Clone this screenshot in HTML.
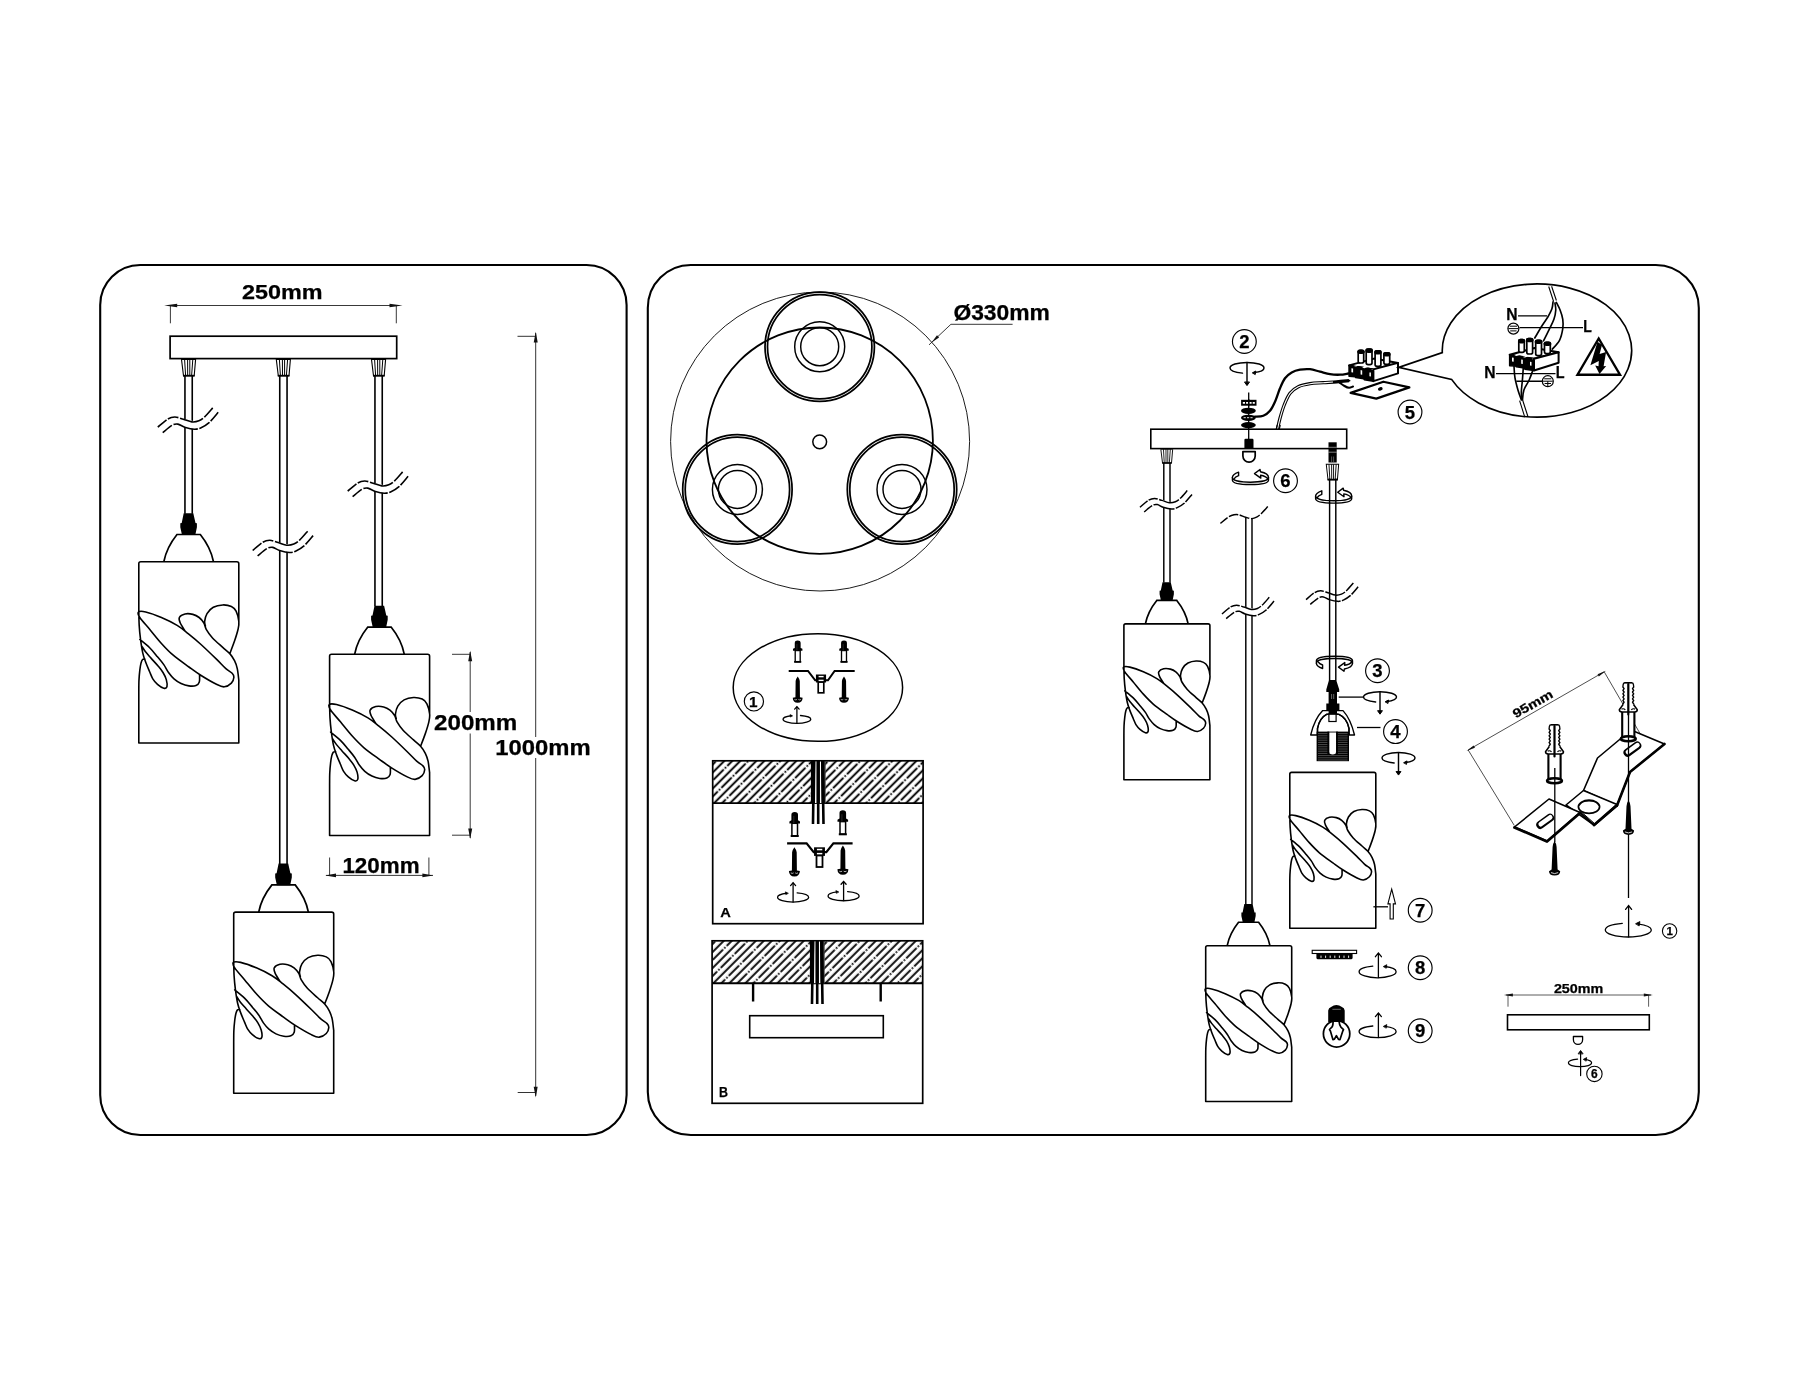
<!DOCTYPE html>
<html><head><meta charset="utf-8"><title>Diagram</title>
<style>html,body{margin:0;padding:0;background:#fff}svg{display:block;filter:grayscale(1)}text{font-family:"Liberation Sans",sans-serif;font-weight:bold;fill:#000;stroke:#000;stroke-width:.25px}</style>
</head><body>
<svg width="1800" height="1400" viewBox="0 0 1800 1400">
<rect width="1800" height="1400" fill="#fff"/>
<defs>
<g id="shade"><path vector-effect="non-scaling-stroke" d="M2 0H98Q100 0 100 2V59.68M0 2Q0 0 2 0M0 2V49.47M0.00 49.47C0.07 51.83 0.12 59.03 0.39 63.61C0.67 68.20 1.06 72.39 1.65 76.97C2.24 81.56 3.05 87.19 3.93 91.12C4.81 95.05 5.76 97.41 6.92 100.55C8.07 103.69 9.67 107.23 10.84 109.98C12.02 112.73 12.68 114.96 13.99 117.05C15.30 119.15 16.87 120.98 18.70 122.55C20.54 124.12 23.42 126.06 24.99 126.48C26.56 126.90 27.71 126.51 28.13 125.07C28.55 123.63 28.16 120.22 27.50 117.84C26.85 115.45 25.54 112.99 24.20 110.76C22.87 108.54 21.45 106.84 19.49 104.48C17.52 102.12 14.51 98.98 12.42 96.62C10.32 94.26 8.49 92.36 6.92 90.33C5.34 88.30 3.64 85.42 2.99 84.44M1.02 77.76C2.66 79.13 7.90 83.13 10.84 86.01C13.79 88.89 16.35 92.23 18.70 95.05C21.06 97.86 23.16 100.29 24.99 102.91C26.82 105.53 28.00 108.41 29.71 110.76C31.41 113.12 33.11 115.22 35.21 117.05C37.30 118.89 39.79 120.59 42.28 121.77C44.77 122.95 47.65 123.80 50.14 124.12C52.63 124.45 55.48 124.39 57.21 123.73C58.94 123.08 59.92 121.96 60.51 120.19C61.10 118.43 60.71 114.30 60.75 113.12M6.13 97.41C5.74 97.47 4.43 97.14 3.77 97.80C3.12 98.45 2.66 99.57 2.20 101.33C1.74 103.10 1.36 105.53 1.02 108.41C0.68 111.29 0.33 114.96 0.16 118.62C-0.01 122.29 0.03 128.45 0.00 130.41V181.20H100V118.62M-0.31 50.25C0.67 49.34 3.09 49.34 6.92 50.25C10.74 51.17 17.39 53.53 22.63 55.75C27.87 57.98 33.90 60.93 38.35 63.61C42.80 66.30 45.42 68.72 49.35 71.86C53.28 75.01 57.21 78.22 61.93 82.47C66.64 86.73 73.45 93.34 77.64 97.41C81.83 101.47 84.45 104.48 87.07 106.84C89.69 109.19 92.02 110.11 93.36 111.55C94.70 112.99 95.22 113.84 95.09 115.48C94.96 117.12 94.17 119.78 92.57 121.37C90.98 122.97 87.99 124.87 85.50 125.07C83.01 125.26 81.57 124.48 77.64 122.55C73.71 120.63 66.51 116.40 61.93 113.52C57.34 110.63 54.72 108.60 50.14 105.26C45.55 101.92 39.00 97.41 34.42 93.48C29.84 89.55 26.56 86.01 22.63 81.69C18.70 77.37 14.45 71.86 10.84 67.54C7.24 63.22 2.88 58.64 1.02 55.75C-0.84 52.87 -1.30 51.17 -0.31 50.25ZM46.21 69.11C45.42 67.80 42.44 63.48 41.49 61.26C40.55 59.03 39.76 57.26 40.55 55.75C41.34 54.25 43.96 52.74 46.21 52.22C48.46 51.69 51.71 52.02 54.07 52.61C56.42 53.20 58.52 54.31 60.35 55.75C62.19 57.20 63.89 59.29 65.07 61.26C66.25 63.22 65.99 65.05 67.43 67.54C68.87 70.03 70.96 73.17 73.71 76.19C76.46 79.20 81.05 83.00 83.93 85.62C86.81 88.24 89.04 89.68 91.00 91.90C92.97 94.13 94.47 96.49 95.72 98.98C96.96 101.47 97.75 103.56 98.47 106.84C99.19 110.11 99.78 116.66 100.04 118.62M91.00 91.90C91.79 89.81 94.34 83.39 95.72 79.33C97.09 75.27 98.53 70.82 99.25 67.54C99.97 64.27 100.37 62.70 100.04 59.68C99.71 56.67 98.53 51.96 97.29 49.47C96.04 46.98 94.80 45.80 92.57 44.75C90.35 43.71 86.94 43.05 83.93 43.18C80.92 43.31 77.12 44.10 74.50 45.54C71.88 46.98 69.65 49.47 68.21 51.83C66.77 54.18 66.12 57.59 65.85 59.68C65.59 61.78 66.51 63.61 66.64 64.40" fill="none" stroke="#000" stroke-width="1.6" stroke-linejoin="round" stroke-linecap="round"/></g>
<g id="lamp"><path vector-effect="non-scaling-stroke" d="M25 0Q27.8 -14.3 38.2 -27.25H61.5Q71.9 -14.3 74.7 0" fill="#fff" stroke="#000" stroke-width="1.7"/><use href="#shade"/><path d="M44.9 -48.5H54.5L56.7 -38.75L58.1 -38.5V-34.6L56.5 -26.75H43.2L41.5 -34.6V-38.5L42.9 -38.75Z" fill="#000"/></g>
<g id="brk"><path d="M-6 -1.9 L6 1.2 L6 8.2 L-6 5.3Z" fill="#fff"/><path d="M-7 -2.6L7 0.6L7 2.2L-7 -1Z" fill="#fff"/><path vector-effect="non-scaling-stroke" d="M-30.70 6.20C-29.03 4.83 -23.55 -0.30 -20.70 -2.00C-17.85 -3.70 -16.18 -4.03 -13.60 -4.00C-11.02 -3.97 -8.02 -2.62 -5.20 -1.80C-2.38 -0.98 0.70 0.63 3.30 0.90C5.90 1.17 8.25 0.65 10.40 -0.20C12.55 -1.05 13.90 -2.05 16.20 -4.20C18.50 -6.35 22.87 -11.62 24.20 -13.10" fill="none" stroke="#000" stroke-width="1.6" stroke-dasharray="11.3 1.7 11 1.7 24.5 1.7 14"/><path vector-effect="non-scaling-stroke" d="M-25.80 11.60C-24.22 10.37 -18.83 5.62 -16.30 4.20C-13.77 2.78 -12.68 2.77 -10.60 3.10C-8.52 3.43 -6.55 5.35 -3.80 6.20C-1.05 7.05 3.17 8.12 5.90 8.20C8.63 8.28 10.15 7.80 12.60 6.70C15.05 5.60 17.75 4.17 20.60 1.60C23.45 -0.97 28.18 -6.98 29.70 -8.70" fill="none" stroke="#000" stroke-width="1.6" stroke-dasharray="11.6 1.7 25.5 1.7 11.9 1.7 14"/></g>
<g id="brk2"><path d="M-5.2 -1.7L5.2 1L5.2 7.1L-5.2 4.6Z" fill="#fff"/><path d="M-6 -2.3L6 0.5L6 1.9L-6 -0.9Z" fill="#fff"/><path d="M-26.46 5.34C-25.03 4.17 -20.30 -0.26 -17.84 -1.72C-15.39 -3.19 -13.95 -3.48 -11.72 -3.45C-9.50 -3.42 -6.91 -2.26 -4.48 -1.55C-2.05 -0.85 0.60 0.55 2.84 0.78C5.09 1.01 7.11 0.56 8.96 -0.17C10.82 -0.91 11.98 -1.77 13.96 -3.62C15.95 -5.47 19.71 -10.01 20.86 -11.29" fill="none" stroke="#000" stroke-width="1.5" stroke-dasharray="9.7 1.5 9.5 1.5 21.1 1.5 14"/><path d="M-22.24 10.00C-20.87 8.94 -16.23 4.84 -14.05 3.62C-11.87 2.40 -10.93 2.38 -9.14 2.67C-7.34 2.96 -5.65 4.61 -3.28 5.34C-0.91 6.08 2.73 7.00 5.09 7.07C7.44 7.14 8.75 6.72 10.86 5.78C12.97 4.83 15.30 3.59 17.76 1.38C20.21 -0.83 24.29 -6.02 25.60 -7.50" fill="none" stroke="#000" stroke-width="1.5" stroke-dasharray="10 1.5 22 1.5 10.3 1.5 14"/></g>
<g id="cone"><path d="M-7.1 0L-5.1 16.3H5.6L7 0Z" fill="#fff" stroke="#000" stroke-width="1.1"/><path d="M-4.0 0L-3.0 16.3" stroke="#000" stroke-width="1.0"/><path d="M-1.0 0L-0.9 16.3" stroke="#000" stroke-width="1.0"/><path d="M1.2 0L1.2 16.3" stroke="#000" stroke-width="1.0"/><path d="M4.2 0L3.0 16.3" stroke="#000" stroke-width="1.0"/><path d="M-5.6 16.3H6" stroke="#000" stroke-width="1.8"/></g>
<pattern id="hatch" width="19.7" height="11.314" patternUnits="userSpaceOnUse" patternTransform="rotate(-45)"><path d="M0 8.27H19.7M0 2.61H1.64M6.64 2.61H19.7M3.3 2.61H5" stroke="#000" stroke-width="1.85" fill="none"/></pattern>
<g id="rotup" fill="none" stroke="#000" stroke-width="1.3" stroke-linecap="round"><path vector-effect="non-scaling-stroke" d="M-4.8 -5.6C-13 -4.8 -18.5 -2.6 -18.5 0C-18.5 3.3 -10 6.1 0 6.1C10 6.1 18.5 3.3 18.5 0C18.5 -2.4 13.5 -4.4 7.5 -5.2"/><path vector-effect="non-scaling-stroke" d="M0.8 5.9V-18"/><path vector-effect="non-scaling-stroke" d="M-2.2 -15L0.8 -18.6L3.8 -15" stroke-linejoin="miter"/><path d="M6 -5.3L9.2 -7L8.7 -3.8Z" fill="#000" stroke-width="0.8"/></g>
<g id="rotupL" fill="none" stroke="#000" stroke-width="1.3" stroke-linecap="round"><path vector-effect="non-scaling-stroke" d="M4.8 -5.6C13 -4.8 18.5 -2.6 18.5 0C18.5 3.3 10 6.1 0 6.1C-10 6.1 -18.5 3.3 -18.5 0C-18.5 -2.4 -13.5 -4.4 -7.5 -5.2"/><path vector-effect="non-scaling-stroke" d="M0 5.9V-18"/><path vector-effect="non-scaling-stroke" d="M-3 -15L0 -18.6L3 -15" stroke-linejoin="miter"/><path d="M-6 -5.3L-9.2 -7L-8.7 -3.8Z" fill="#000" stroke-width="0.8"/></g>
<g id="rotdn" fill="none" stroke="#000" stroke-width="1.45" stroke-linecap="round"><path vector-effect="non-scaling-stroke" d="M-4.5 5.1C-12 4.3 -17 2.4 -17 0C-17 -3.1 -9.5 -5.6 0 -5.6C9.5 -5.6 17 -3.1 17 0C17 2.2 12.5 4 7 4.6"/><path vector-effect="non-scaling-stroke" d="M0 -5.5V16"/><path vector-effect="non-scaling-stroke" d="M-2.3 14.3L0 17.6L2.3 14.3Z" fill="#000" stroke-width="1"/><path vector-effect="non-scaling-stroke" d="M5.6 4.7L8.8 3L8.3 6.2Z" fill="#000" stroke-width="1"/></g>
<g id="rib" fill="#fff" stroke="#000" stroke-width="1.4" stroke-linejoin="round" stroke-linecap="round"><path d="M-18.1 -0.8C-18.1 2.3 -10 3.9 0 3.9C10 3.9 18 2.3 18 -0.8V1.6C18 4.7 10 6.2 0 6.2C-10 6.2 -18.1 4.7 -18.1 1.6Z"/><path d="M-18.1 -0.8C-18.1 -3 -15.5 -4.8 -11.9 -6.1V-2.6C-14 -1.9 -15.6 -0.9 -16.3 0.5" fill="none"/><path d="M18 -0.8C18 -3.5 14.5 -5.6 9.9 -6.6L9.5 -8.8L4 -4.7L10.3 -0.2L10.1 -3C13.5 -2.4 16 -1.2 17.1 0.4" fill="none"/></g>
</defs>
<rect x="100.2" y="265" width="526.4" height="870" rx="40" ry="40" fill="#fff" stroke="#000" stroke-width="2.1"/>
<rect x="647.8" y="265" width="1051" height="870" rx="43" ry="43" fill="#fff" stroke="#000" stroke-width="2.1"/>
<text x="241.9" y="299.2" font-size="20.8" font-weight="bold" font-family="Liberation Sans, sans-serif" text-anchor="start" textLength="80.6" lengthAdjust="spacingAndGlyphs" >250mm</text>
<path d="M170 305.5H396.5M170.4 305.5V323.3M396.3 305.5V323.3" stroke="#222" stroke-width="0.9" fill="none"/>
<path d="M0 0L-13 -1.7L-13 1.7Z" fill="#111" transform="translate(164.2 305.5) rotate(180)"/>
<path d="M0 0L-13 -1.7L-13 1.7Z" fill="#111" transform="translate(402.5 305.5) rotate(0)"/>
<rect x="170.1" y="336.2" width="226.6" height="22.4" fill="#fff" stroke="#000" stroke-width="1.7"/>
<use href="#cone" x="188.6" y="359.4"/>
<path d="M184.95 375.5V513.75M192.25 375.5V513.75" stroke="#000" stroke-width="1.6" fill="none"/>
<use href="#cone" x="283.4" y="359.4"/>
<path d="M279.75 375.5V864.1M287.05 375.5V864.1" stroke="#000" stroke-width="1.6" fill="none"/>
<use href="#cone" x="378.6" y="359.4"/>
<path d="M374.95 375.5V606.3M382.25 375.5V606.3" stroke="#000" stroke-width="1.6" fill="none"/>
<use href="#brk" x="188.5" y="421"/>
<use href="#brk" x="283.4" y="544.3"/>
<use href="#brk" x="378.4" y="485"/>
<use href="#lamp" x="138.8" y="561.75"/>
<use href="#lamp" x="233.7" y="912.1"/>
<use href="#lamp" x="329.6" y="654.3"/>
<path d="M470.2 652V712M470.2 733.5V838M452 654.3H470.6M452 835.2H470.6" stroke="#222" stroke-width="0.9" fill="none"/>
<path d="M0 0L-10.6 -2L-10.6 2Z" fill="#111" transform="translate(470.2 650.7) rotate(-90)"/>
<path d="M0 0L-10.6 -2L-10.6 2Z" fill="#111" transform="translate(470.2 839.1) rotate(90)"/>
<text x="434.1" y="730.3" font-size="21.2" font-weight="bold" font-family="Liberation Sans, sans-serif" text-anchor="start" textLength="83.2" lengthAdjust="spacingAndGlyphs" >200mm</text>
<path d="M535.7 333V737M535.7 758V1096M517.5 336.3H536M517.7 1092.5H536" stroke="#333" stroke-width="1.0" fill="none"/>
<path d="M0 0L-10.8 -2L-10.8 2Z" fill="#111" transform="translate(535.7 331.7) rotate(-90)"/>
<path d="M0 0L-10.8 -2L-10.8 2Z" fill="#111" transform="translate(535.7 1097.6) rotate(90)"/>
<text x="495.2" y="755.3" font-size="21.2" font-weight="bold" font-family="Liberation Sans, sans-serif" text-anchor="start" textLength="95.4" lengthAdjust="spacingAndGlyphs" >1000mm</text>
<path d="M326 875.4H433M329.6 857.5V875.6M428.9 857.5V875.6" stroke="#222" stroke-width="0.9" fill="none"/>
<path d="M0 0L-10.8 -1.8L-10.8 1.8Z" fill="#111" transform="translate(325.2 875.4) rotate(180)"/>
<path d="M0 0L-10.8 -1.8L-10.8 1.8Z" fill="#111" transform="translate(433.2 875.4) rotate(0)"/>
<text x="342.4" y="873" font-size="21.2" font-weight="bold" font-family="Liberation Sans, sans-serif" text-anchor="start" textLength="77.2" lengthAdjust="spacingAndGlyphs" >120mm</text>
<circle cx="820.1" cy="441.5" r="149.5" fill="none" stroke="#111" stroke-width="0.95"/>
<circle cx="819.7" cy="440.7" r="113.2" fill="none" stroke="#000" stroke-width="1.8"/>
<circle cx="819.7" cy="441.8" r="6.9" fill="none" stroke="#000" stroke-width="1.5"/>
<circle cx="819.7" cy="346.7" r="54.7" fill="none" stroke="#000" stroke-width="1.75"/>
<circle cx="819.7" cy="346.7" r="52.2" fill="none" stroke="#000" stroke-width="1.75"/>
<circle cx="819.7" cy="346.7" r="25" fill="none" stroke="#000" stroke-width="1.45"/>
<circle cx="819.7" cy="346.7" r="19" fill="none" stroke="#000" stroke-width="1.45"/>
<circle cx="737.4" cy="489.4" r="54.7" fill="none" stroke="#000" stroke-width="1.75"/>
<circle cx="737.4" cy="489.4" r="52.2" fill="none" stroke="#000" stroke-width="1.75"/>
<circle cx="737.4" cy="489.4" r="25" fill="none" stroke="#000" stroke-width="1.45"/>
<circle cx="737.4" cy="489.4" r="19" fill="none" stroke="#000" stroke-width="1.45"/>
<circle cx="902" cy="489.4" r="54.7" fill="none" stroke="#000" stroke-width="1.75"/>
<circle cx="902" cy="489.4" r="52.2" fill="none" stroke="#000" stroke-width="1.75"/>
<circle cx="902" cy="489.4" r="25" fill="none" stroke="#000" stroke-width="1.45"/>
<circle cx="902" cy="489.4" r="19" fill="none" stroke="#000" stroke-width="1.45"/>
<text x="953.4" y="320.4" font-size="21.2" font-weight="bold" font-family="Liberation Sans, sans-serif" text-anchor="start" textLength="96.5" lengthAdjust="spacingAndGlyphs" >&#216;330mm</text>
<path d="M1012.6 324.3H950.9L929 344.9" fill="none" stroke="#222" stroke-width="0.9"/>
<path d="M0 0L-9 -1.5L-9 1.5Z" fill="#111" transform="translate(931.5 342.5) rotate(136.8)"/>
<ellipse cx="817.9" cy="687.5" rx="84.7" ry="53.8" fill="#fff" stroke="#000" stroke-width="1.5"/>
<g transform="translate(797.7 640.4) scale(0.89)"><path d="M-3.3 2.8Q-3.3 0 0 0Q3.3 0 3.3 2.8V8.4L5.3 9.5V11.6H-5.3V9.5L-3.3 8.4Z" fill="#000"/><rect x="-2.8" y="11.4" width="5.6" height="12.6" fill="#fff" stroke="#000" stroke-width="1.5"/><rect x="-4" y="23.1" width="8" height="2" fill="#000"/><path d="M-0.9 4V11.4" stroke="#555" stroke-width="0.5"/></g>
<g transform="translate(844 640.4) scale(0.89)"><path d="M-3.3 2.8Q-3.3 0 0 0Q3.3 0 3.3 2.8V8.4L5.3 9.5V11.6H-5.3V9.5L-3.3 8.4Z" fill="#000"/><rect x="-2.8" y="11.4" width="5.6" height="12.6" fill="#fff" stroke="#000" stroke-width="1.5"/><rect x="-4" y="23.1" width="8" height="2" fill="#000"/><path d="M-0.9 4V11.4" stroke="#555" stroke-width="0.5"/></g>
<path d="M788.7 670.9H808L815.2 680.3H828L834.6 670.9H854.7" fill="none" stroke="#000" stroke-width="2"/>
<g transform="translate(821 674.5) scale(0.93)"><rect x="-5.45" y="0" width="10.9" height="8.6" fill="#000"/><rect x="-2.6" y="1.5" width="5.4" height="1.5" fill="#fff"/><rect x="-2.6" y="5.6" width="5.4" height="1.7" fill="#fff"/><rect x="-3" y="8.2" width="6" height="11.5" fill="#fff" stroke="#000" stroke-width="1.8"/></g>
<g transform="translate(797.7 676.4) scale(0.9)"><path d="M0 0Q1.6 2 2.3 5L2.5 23.2L5.5 23.6Q5.3 28.9 0 29.2Q-5.3 28.9 -5.5 23.6L-2.5 23.2L-2.3 5Q-1.6 2 0 0Z" fill="#000"/><path d="M-3.6 25.6Q-2 26.6 -0.8 25.6M0.8 25.6Q2 26.6 3.6 25.6" stroke="#fff" stroke-width="0.7" fill="none"/></g>
<g transform="translate(844 676.4) scale(0.9)"><path d="M0 0Q1.6 2 2.3 5L2.5 23.2L5.5 23.6Q5.3 28.9 0 29.2Q-5.3 28.9 -5.5 23.6L-2.5 23.2L-2.3 5Q-1.6 2 0 0Z" fill="#000"/><path d="M-3.6 25.6Q-2 26.6 -0.8 25.6M0.8 25.6Q2 26.6 3.6 25.6" stroke="#fff" stroke-width="0.7" fill="none"/></g>
<g transform="translate(796.9 719.3) scale(0.75 0.68)"><use href="#rotupL"/></g>
<circle cx="753.9" cy="701.4" r="9.6" fill="none" stroke="#000" stroke-width="1.15"/>
<text x="753.3" y="706.9" font-size="15.3" font-weight="bold" font-family="Liberation Sans, sans-serif" text-anchor="middle" >1</text>
<g transform="translate(712.7 760.8)"><rect x="0" y="0" width="210.4" height="42.3" fill="url(#hatch)"/></g>
<rect x="712.7" y="760.8" width="210.4" height="162.9" fill="none" stroke="#000" stroke-width="1.7"/>
<path d="M712.7 803.1H923.1" stroke="#000" stroke-width="1.9"/>
<rect x="811" y="761.6" width="14.4" height="41.5" fill="#fff"/>
<path d="M813.9 760.8L813 824M818.2 760.8V824M822.5 760.8L823.5 824" stroke="#000" stroke-width="2.6" fill="none"/>
<path d="M813.7 760.8L813.3 803.1M818.2 760.8V803.1M822.7 760.8L823.1 803.1" stroke="#000" stroke-width="3.4" fill="none"/>
<path d="M811.5 760.8V803.1M824.9 760.8V803.1" stroke="#000" stroke-width="1.2" fill="none"/>
<g transform="translate(794.7 811.9) scale(1)"><path d="M-3.3 2.8Q-3.3 0 0 0Q3.3 0 3.3 2.8V8.4L5.3 9.5V11.6H-5.3V9.5L-3.3 8.4Z" fill="#000"/><rect x="-2.8" y="11.4" width="5.6" height="12.6" fill="#fff" stroke="#000" stroke-width="1.5"/><rect x="-4" y="23.1" width="8" height="2" fill="#000"/><path d="M-0.9 4V11.4" stroke="#555" stroke-width="0.5"/></g>
<g transform="translate(842.8 810.2) scale(1)"><path d="M-3.3 2.8Q-3.3 0 0 0Q3.3 0 3.3 2.8V8.4L5.3 9.5V11.6H-5.3V9.5L-3.3 8.4Z" fill="#000"/><rect x="-2.8" y="11.4" width="5.6" height="12.6" fill="#fff" stroke="#000" stroke-width="1.5"/><rect x="-4" y="23.1" width="8" height="2" fill="#000"/><path d="M-0.9 4V11.4" stroke="#555" stroke-width="0.5"/></g>
<path d="M787.1 843.3H806.6L813.7 852.2H826.3L833.4 843.3H852.6" fill="none" stroke="#000" stroke-width="2.2"/>
<g transform="translate(819.5 847.3) scale(1)"><rect x="-5.45" y="0" width="10.9" height="8.6" fill="#000"/><rect x="-2.6" y="1.5" width="5.4" height="1.5" fill="#fff"/><rect x="-2.6" y="5.6" width="5.4" height="1.7" fill="#fff"/><rect x="-3" y="8.2" width="6" height="11.5" fill="#fff" stroke="#000" stroke-width="1.8"/></g>
<g transform="translate(794.4 847.3) scale(1)"><path d="M0 0Q1.6 2 2.3 5L2.5 23.2L5.5 23.6Q5.3 28.9 0 29.2Q-5.3 28.9 -5.5 23.6L-2.5 23.2L-2.3 5Q-1.6 2 0 0Z" fill="#000"/><path d="M-3.6 25.6Q-2 26.6 -0.8 25.6M0.8 25.6Q2 26.6 3.6 25.6" stroke="#fff" stroke-width="0.7" fill="none"/></g>
<g transform="translate(842.9 845.6) scale(1)"><path d="M0 0Q1.6 2 2.3 5L2.5 23.2L5.5 23.6Q5.3 28.9 0 29.2Q-5.3 28.9 -5.5 23.6L-2.5 23.2L-2.3 5Q-1.6 2 0 0Z" fill="#000"/><path d="M-3.6 25.6Q-2 26.6 -0.8 25.6M0.8 25.6Q2 26.6 3.6 25.6" stroke="#fff" stroke-width="0.7" fill="none"/></g>
<g transform="translate(793.1 897.3) scale(0.84 0.78)"><use href="#rotupL"/></g>
<g transform="translate(843.6 896) scale(0.84 0.78)"><use href="#rotupL"/></g>
<text x="720.2" y="916.7" font-size="13.6" font-weight="bold" font-family="Liberation Sans, sans-serif" text-anchor="start" textLength="10.6" lengthAdjust="spacingAndGlyphs" >A</text>
<g transform="translate(712.1 940.8)"><rect x="0" y="0" width="210.6" height="42.4" fill="url(#hatch)"/></g>
<rect x="712.1" y="940.8" width="210.6" height="162.5" fill="none" stroke="#000" stroke-width="1.7"/>
<path d="M712.1 983.2H922.7" stroke="#000" stroke-width="1.9"/>
<rect x="810" y="941.6" width="14.4" height="41.6" fill="#fff"/>
<path d="M812.9 940.8L812 1004M817.2 940.8V1004M821.5 940.8L822.5 1004" stroke="#000" stroke-width="2.6" fill="none"/>
<path d="M812.7 940.8L812.3 983.2M817.2 940.8V983.2M821.7 940.8L822.1 983.2" stroke="#000" stroke-width="3.4" fill="none"/>
<path d="M810.5 940.8V983.2M823.9 940.8V983.2" stroke="#000" stroke-width="1.2" fill="none"/>
<path d="M753.1 983V1001.5M880.7 983V1001.5" stroke="#000" stroke-width="2.4" fill="none"/>
<rect x="749.7" y="1015.7" width="133.6" height="22" fill="#fff" stroke="#000" stroke-width="1.6"/>
<text x="718.9" y="1096.8" font-size="13.8" font-weight="bold" font-family="Liberation Sans, sans-serif" text-anchor="start" textLength="9" lengthAdjust="spacingAndGlyphs" >B</text>
<path d="M1255.00 416.70C1256.38 416.55 1260.80 416.78 1263.30 415.80C1265.80 414.82 1268.05 413.15 1270.00 410.80C1271.95 408.45 1273.33 405.45 1275.00 401.70C1276.67 397.95 1278.33 392.20 1280.00 388.30C1281.67 384.40 1283.05 380.93 1285.00 378.30C1286.95 375.67 1289.20 373.93 1291.70 372.50C1294.20 371.07 1296.95 370.25 1300.00 369.70C1303.05 369.15 1306.67 368.87 1310.00 369.20C1313.33 369.53 1316.67 370.87 1320.00 371.70C1323.33 372.53 1326.67 373.70 1330.00 374.20C1333.33 374.70 1336.95 374.82 1340.00 374.70C1343.05 374.58 1346.92 373.70 1348.30 373.50" fill="none" stroke="#000" stroke-width="2.3" stroke-linecap="round"/>
<path d="M1277.30 430.00C1277.75 428.05 1278.85 422.47 1280.00 418.30C1281.15 414.13 1282.53 409.17 1284.20 405.00C1285.87 400.83 1287.65 396.35 1290.00 393.30C1292.35 390.25 1294.97 388.30 1298.30 386.70C1301.63 385.10 1305.83 384.37 1310.00 383.70C1314.17 383.03 1318.85 383.02 1323.30 382.70C1327.75 382.38 1332.42 382.15 1336.70 381.80C1340.98 381.45 1346.95 380.80 1349.00 380.60" fill="none" stroke="#000" stroke-width="3.3"/>
<path d="M1277.30 430.00C1277.75 428.05 1278.85 422.47 1280.00 418.30C1281.15 414.13 1282.53 409.17 1284.20 405.00C1285.87 400.83 1287.65 396.35 1290.00 393.30C1292.35 390.25 1294.97 388.30 1298.30 386.70C1301.63 385.10 1305.83 384.37 1310.00 383.70C1314.17 383.03 1319.47 382.98 1323.30 382.70C1327.13 382.42 1331.38 382.12 1333.00 382.00" fill="none" stroke="#fff" stroke-width="1.1"/>
<path d="M1336 381.9L1349.5 380.6" stroke="#000" stroke-width="1.9" stroke-linecap="round"/>
<path d="M1339.50 382.60C1340.33 383.17 1342.92 385.13 1344.50 386.00C1346.08 386.87 1347.58 387.70 1349.00 387.80C1350.42 387.90 1352.33 386.80 1353.00 386.60" fill="none" stroke="#000" stroke-width="2.1" stroke-linecap="round"/>
<rect x="1150.8" y="429.2" width="195.9" height="19.4" fill="#fff" stroke="#000" stroke-width="1.6"/>
<path d="M1276.2 429.2L1277.2 425M1279.3 429.2L1280.3 425" stroke="#000" stroke-width="1.1"/>
<path d="M1248.7 392.6V439" stroke="#000" stroke-width="1.3"/>
<rect x="1241.1" y="399.8" width="15.4" height="5.9" fill="#000"/>
<path d="M1242.8 402.8H1254.8" stroke="#fff" stroke-width="1.7" stroke-dasharray="2.2 1.1"/>
<path d="M1248.7 399V406.5" stroke="#000" stroke-width="1.3"/>
<ellipse cx="1248.4" cy="410.8" rx="7.4" ry="3.1" fill="#000"/>
<ellipse cx="1248.4" cy="417.8" rx="7.4" ry="3.1" fill="#000"/>
<ellipse cx="1248.4" cy="425.1" rx="7.4" ry="3.1" fill="#000"/>
<path d="M1243.6 417.7H1253.2" stroke="#fff" stroke-width="0.9" stroke-dasharray="2.2 1.2"/>
<rect x="1244.4" y="438.7" width="9.1" height="10.4" rx="1.2" fill="#000"/>
<path d="M1242.9 451.6H1255.2V456A6.15 6.15 0 0 1 1242.9 456Z" fill="#fff" stroke="#000" stroke-width="1.7" stroke-linejoin="round"/>
<circle cx="1244.35" cy="341.5" r="11.9" fill="#fff" stroke="#000" stroke-width="1.15"/>
<text x="1244.35" y="348.12" font-size="18.5" font-weight="bold" font-family="Liberation Sans, sans-serif" text-anchor="middle" >2</text>
<g transform="translate(1247 368) scale(1 1)" ><use href="#rotdn"/></g>
<g transform="translate(1250.5 478.3) scale(1 1)" ><use href="#rib"/></g>
<circle cx="1285.5" cy="480.8" r="11.9" fill="#fff" stroke="#000" stroke-width="1.15"/>
<text x="1285.5" y="487.42" font-size="18.5" font-weight="bold" font-family="Liberation Sans, sans-serif" text-anchor="middle" >6</text>
<circle cx="1410" cy="412" r="11.9" fill="#fff" stroke="#000" stroke-width="1.15"/>
<text x="1410" y="418.62" font-size="18.5" font-weight="bold" font-family="Liberation Sans, sans-serif" text-anchor="middle" >5</text>
<g id="tb"><polygon points="1349.1,365.4 1373.4,369.4 1398.0,362.9 1374.0,358.6" fill="#fff" stroke="#000" stroke-width="2" stroke-linejoin="round"/><rect x="1383.9" y="352.9" width="5.8" height="11.4" rx="2" ry="1.6" fill="#fff" stroke="#000" stroke-width="1.7"/><rect x="1383.1" y="352.0" width="7.5" height="4.6" rx="2.4" ry="1.8" fill="#000"/><rect x="1375.1" y="350.9" width="5.8" height="15.4" rx="2" ry="1.6" fill="#fff" stroke="#000" stroke-width="1.7"/><rect x="1374.2" y="350.0" width="7.5" height="4.6" rx="2.4" ry="1.8" fill="#000"/><rect x="1358.2" y="350.3" width="5.5" height="12.7" rx="2" ry="1.6" fill="#fff" stroke="#000" stroke-width="1.7"/><rect x="1357.4" y="349.4" width="7.2" height="4.6" rx="2.4" ry="1.8" fill="#000"/><rect x="1366.2" y="349.1" width="5.8" height="15.5" rx="2" ry="1.6" fill="#fff" stroke="#000" stroke-width="1.7"/><rect x="1365.4" y="348.3" width="7.5" height="4.6" rx="2.4" ry="1.8" fill="#000"/><polygon points="1349.1,365.4 1373.4,369.4 1373.4,381.1 1364.3,379.7 1363.7,378.6 1355.7,377.4 1355.1,376.6 1349.1,376.3" fill="#000" stroke="#000" stroke-width="1.6" stroke-linejoin="round"/><polygon points="1351.4,368.2 1353.1,368.4 1353.1,372.4 1351.4,372.2" fill="#fff"/><polygon points="1360.6,370.1 1362.2,370.4 1362.2,374.7 1360.6,374.4" fill="#fff"/><polygon points="1369.4,372.4 1370.9,372.6 1370.9,376.4 1369.4,376.2" fill="#fff"/><polygon points="1353.7,365.9 1358.0,364.5 1360.3,365.0 1356.0,366.5" fill="#fff"/><polygon points="1362.0,367.6 1366.6,366.1 1368.9,366.7 1364.3,368.2" fill="#fff"/><polygon points="1371.1,369.5 1375.7,368.1 1377.7,368.5 1373.4,370.0" fill="#fff"/><polygon points="1373.4,369.4 1398.0,362.9 1398.0,373.4 1373.4,381.1" fill="#fff" stroke="#000" stroke-width="2" stroke-linejoin="round"/></g>
<polygon points="1350.6,392.9 1383.4,381.7 1409.4,387.4 1376.3,398.6" fill="#fff" stroke="#000" stroke-width="2.2" stroke-linejoin="round"/>
<ellipse cx="1380.3" cy="388.9" rx="2.4" ry="1.7" fill="#000" transform="rotate(-15 1380.3 388.9)"/>
<path d="M1442.3 352.6A94.7 66.6 0 1 1 1451.6 379.4L1398.7 367.4Z" fill="#fff" stroke="#000" stroke-width="1.65" stroke-linejoin="miter"/>
<path d="M1548.7 286.5L1553.6 301.5M1551.6 286.2L1556.4 300.5" stroke="#000" stroke-width="1.1" fill="none"/>
<path d="M1553.09 301.25C1552.90 302.52 1552.80 306.21 1551.92 308.84C1551.05 311.46 1549.49 314.18 1547.84 317.00C1546.19 319.82 1544.24 322.16 1542.01 325.75C1539.77 329.35 1535.69 336.45 1534.42 338.59" fill="none" stroke="#000" stroke-width="1.65"/>
<path d="M1554.84 302.42C1555.00 303.68 1555.93 307.18 1555.77 310.00C1555.62 312.82 1555.03 316.03 1553.91 319.34C1552.78 322.64 1550.79 326.14 1549.01 329.84C1547.22 333.53 1544.14 339.56 1543.17 341.50" fill="none" stroke="#000" stroke-width="1.65"/>
<path d="M1556.01 301.83C1556.69 303.20 1558.96 307.08 1560.09 310.00C1561.22 312.92 1562.33 316.22 1562.77 319.34C1563.22 322.45 1563.32 325.17 1562.77 328.67C1562.23 332.17 1561.31 336.84 1559.51 340.34C1557.70 343.84 1553.19 348.11 1551.92 349.67" fill="none" stroke="#000" stroke-width="1.65"/>
<path d="M1514.00 366.00C1514.16 367.95 1514.26 373.59 1514.94 377.67C1515.62 381.76 1516.98 386.71 1518.09 390.51C1519.20 394.30 1521.00 398.77 1521.59 400.42" fill="none" stroke="#000" stroke-width="1.65"/>
<path d="M1523.34 367.17C1523.18 369.31 1522.74 375.92 1522.40 380.01C1522.07 384.09 1521.45 388.27 1521.35 391.67C1521.26 395.08 1521.74 398.96 1521.82 400.42" fill="none" stroke="#000" stroke-width="1.65"/>
<path d="M1532.67 370.67C1532.09 372.23 1530.63 376.80 1529.17 380.01C1527.71 383.21 1525.05 386.52 1523.92 389.92C1522.79 393.33 1522.66 398.67 1522.40 400.42" fill="none" stroke="#000" stroke-width="1.65"/>
<path d="M1519.6 400.6L1524.7 416.9M1522.6 400L1527.9 416.5" stroke="#000" stroke-width="1.1" fill="none"/>
<use href="#tb" transform="translate(160.6 -10.6) "/>
<path d="M1518 315.8H1547M1519.5 327.6H1583M1496 373.6H1555.5M1516.3 381.2H1542.5" stroke="#000" stroke-width="1.35" fill="none"/>
<text x="1506.2" y="319.9" font-size="15.6" font-weight="bold" font-family="Liberation Sans, sans-serif" text-anchor="start" textLength="11.3" lengthAdjust="spacingAndGlyphs" >N</text>
<text x="1583.2" y="331.6" font-size="15.6" font-weight="bold" font-family="Liberation Sans, sans-serif" text-anchor="start" textLength="8.6" lengthAdjust="spacingAndGlyphs" >L</text>
<text x="1484.2" y="378.3" font-size="15.6" font-weight="bold" font-family="Liberation Sans, sans-serif" text-anchor="start" textLength="11.3" lengthAdjust="spacingAndGlyphs" >N</text>
<text x="1555.8" y="377.8" font-size="15.6" font-weight="bold" font-family="Liberation Sans, sans-serif" text-anchor="start" textLength="8.8" lengthAdjust="spacingAndGlyphs" >L</text>
<circle cx="1513.4" cy="328.6" r="5.5" fill="#fff" stroke="#000" stroke-width="1.2"/>
<path d="M1508.4 328.6H1518.4M1509.8 326.2H1517M1510.2 330.9H1516.6" stroke="#000" stroke-width="1" fill="none"/>
<circle cx="1547.8" cy="381.2" r="5.5" fill="#fff" stroke="#000" stroke-width="1.2"/>
<path d="M1542.8 381.2H1552.8M1544.2 378.8H1551.4M1544.6 383.5H1551" stroke="#000" stroke-width="1" fill="none"/>
<path d="M1547.8 381.2V386.4" stroke="#000" stroke-width="1"/>
<path d="M1598.7 338.5L1577.5 374.7H1620L1598.7 338.5Z" fill="#fff" stroke="#000" stroke-width="2.4" stroke-linejoin="miter"/>
<polygon points="1597.5,341.8 1602,345 1599.6,354 1606.1,352 1603.6,366.2 1606.2,366 1599.5,373.9 1595.2,365.6 1598.5,366.2 1598.8,361 1590.4,365.3" fill="#000"/>
<use href="#cone" transform="translate(1166.8 449.3) scale(0.84)"/>
<path d="M1163.8 463V582.52M1170 463V582.52" stroke="#000" stroke-width="1.45" fill="none"/>
<g transform="translate(1166.4 501.9) scale(1 1)" ><use href="#brk2"/></g>
<g transform="translate(1123.9 623.9) scale(0.86 0.86)" ><use href="#lamp"/></g>
<path d="M1245.8 517.6V904.32M1252 517.6V904.32" stroke="#000" stroke-width="1.45" fill="none"/>
<path d="M1243 513L1256 517V519.6L1243 516.5Z" fill="#fff"/>
<path d="M1220.40 523.40C1221.63 522.40 1225.53 518.83 1227.80 517.40C1230.07 515.97 1232.15 515.23 1234.00 514.80C1235.85 514.37 1236.97 514.40 1238.90 514.80C1240.83 515.20 1243.45 516.57 1245.60 517.20C1247.75 517.83 1249.88 518.67 1251.80 518.60C1253.72 518.53 1255.55 517.62 1257.10 516.80C1258.65 515.98 1259.32 515.40 1261.10 513.70C1262.88 512.00 1266.68 507.78 1267.80 506.60" fill="none" stroke="#000" stroke-width="1.45" stroke-dasharray="9.2 1.6 9.8 1.5 10 1.7 9.8 1.6 12"/>
<g transform="translate(1248.4 608.6) scale(1 1)" ><use href="#brk2"/></g>
<g transform="translate(1205.7 945.7) scale(0.86 0.86)" ><use href="#lamp"/></g>
<rect x="1328.5" y="442.3" width="8.2" height="20.2" fill="#000"/>
<rect x="1330.3" y="448.2" width="4.6" height="9" fill="#000"/>
<path d="M1328.5 447.3H1336.7M1328.5 452.2H1336.7" stroke="#fff" stroke-width="0.5"/>
<path d="M1331.6 456.5V462M1333.6 456.5V462" stroke="#888" stroke-width="0.6"/>
<use href="#cone" transform="translate(1332.5 464.3) scale(0.88 0.94)"/>
<g transform="translate(1333.7 496.9) scale(1 1)" ><use href="#rib"/></g>
<g transform="translate(1332.5 594.3) scale(1 1)" ><use href="#brk2"/></g>
<g transform="translate(1334.5 662.4) scale(1 -1)" ><use href="#rib"/></g>
<path d="M1329.6 478.6V680.6M1335.8 478.6V680.6" stroke="#000" stroke-width="1.45" fill="none"/>
<circle cx="1377.5" cy="670.7" r="11.9" fill="#fff" stroke="#000" stroke-width="1.15"/>
<text x="1377.5" y="677.32" font-size="18.5" font-weight="bold" font-family="Liberation Sans, sans-serif" text-anchor="middle" >3</text>
<path d="M1329 680H1336.2L1339.2 689.5V692H1337V703.5H1339.4V710L1338 714.5H1327.6L1326.3 710V703.5H1328.6V692H1326.3V689.5Z" fill="#000"/>
<path d="M1331.6 694V699M1333.7 694V699" stroke="#aaa" stroke-width="0.6"/>
<path d="M1338.7 697.1H1363.5" stroke="#000" stroke-width="1.3"/>
<g transform="translate(1380 697.1) scale(0.97 0.97)" ><use href="#rotdn"/></g>
<path d="M1310.7 735Q1314.5 719 1322.7 710.6H1343Q1350.7 719 1354.5 735H1349V728.5Q1347 718 1338.5 714.2H1327Q1319.5 718 1317.5 728.5V735Z" fill="#fff" stroke="#000" stroke-width="1.4" stroke-linejoin="round"/>
<path d="M1327.3 714.2H1338M1317.5 735V728.5Q1319.5 718 1327 714.2M1349 735V728.5Q1347 718 1338.5 714.2" fill="none" stroke="#000" stroke-width="1.4"/>
<rect x="1328.6" y="709" width="8.4" height="5.4" fill="#000"/>
<rect x="1328.9" y="714.2" width="7.2" height="7.3" fill="#fff" stroke="#000" stroke-width="1.2"/>
<rect x="1316.6" y="731.6" width="32.4" height="29.6" fill="#000"/>
<path d="M1318 733.6H1347.6M1318 735.8H1347.6M1318 738H1347.6M1318 740.2H1347.6M1318 742.4H1347.6M1318 744.6H1347.6M1318 746.8H1347.6M1318 749H1347.6M1318 751.2H1347.6M1318 753.4H1347.6M1318 755.6H1347.6M1318 757.8H1347.6M1318 760H1347.6" stroke="#fff" stroke-width="0.3" fill="none"/>
<path d="M1329.2 732.6H1336.1V751.4A3.45 3 0 0 1 1329.2 751.4Z" fill="#fff"/>
<rect x="1327.4" y="731.6" width="1.8" height="23" fill="#000"/><rect x="1336.1" y="731.6" width="1.8" height="23" fill="#000"/>
<path d="M1357 727.5H1380.5" stroke="#000" stroke-width="1.3"/>
<circle cx="1395.5" cy="731.6" r="11.9" fill="#fff" stroke="#000" stroke-width="1.15"/>
<text x="1395.5" y="738.22" font-size="18.5" font-weight="bold" font-family="Liberation Sans, sans-serif" text-anchor="middle" >4</text>
<g transform="translate(1398.5 758) scale(0.97 0.97)" ><use href="#rotdn"/></g>
<g transform="translate(1289.8 772.4) scale(0.86 0.86)" ><use href="#shade"/></g>
<path d="M1373.4 906.8H1388" stroke="#000" stroke-width="1.3"/>
<path d="M1391.7 889.2L1395.5 903.9H1393.3V919H1390.1V903.9H1387.9Z" fill="#fff" stroke="#000" stroke-width="1.1" stroke-linejoin="miter"/>
<circle cx="1420.2" cy="910.3" r="11.9" fill="#fff" stroke="#000" stroke-width="1.15"/>
<text x="1420.2" y="916.92" font-size="18.5" font-weight="bold" font-family="Liberation Sans, sans-serif" text-anchor="middle" >7</text>
<rect x="1312.2" y="950.3" width="44.4" height="3.2" fill="#fff" stroke="#000" stroke-width="1.1"/>
<path d="M1316.4 954H1352.6V957.8Q1352.6 959.3 1351 959.3H1318Q1316.4 959.3 1316.4 957.8Z" fill="#000"/>
<path d="M1321 955.6V957.9M1325.6 955.6V957.9M1330.2 955.6V957.9M1334.8 955.6V957.9M1339.4 955.6V957.9M1344 955.6V957.9M1348.6 955.6V957.9" stroke="#fff" stroke-width="0.9"/>
<g transform="translate(1377.6 971.7) scale(1 1)" ><use href="#rotup"/></g>
<circle cx="1420.2" cy="967.8" r="11.9" fill="#fff" stroke="#000" stroke-width="1.15"/>
<text x="1420.2" y="974.42" font-size="18.5" font-weight="bold" font-family="Liberation Sans, sans-serif" text-anchor="middle" >8</text>
<circle cx="1336.6" cy="1033.8" r="13.2" fill="#fff" stroke="#000" stroke-width="1.75"/>
<path d="M1328.2 1010.6Q1328.4 1008 1331.5 1006.8Q1333.5 1005 1336.4 1005Q1339.5 1005 1341.5 1006.8Q1344.6 1008 1344.7 1010.6V1021.9H1328.2Z" fill="#000"/>
<path d="M1332.4 1009.3H1340.8" stroke="#999" stroke-width="0.7"/>
<path d="M1333.1 1021.8Q1333.1 1025 1332.3 1026.7L1329.5 1029.5L1330.4 1031L1332.9 1039.6L1334.4 1039.1L1336.4 1035.7L1338.5 1039.4L1340 1039.6L1342.8 1031L1343.5 1029.6L1340.9 1027.1Q1339.3 1024.6 1339.1 1021.8" fill="none" stroke="#000" stroke-width="1.7" stroke-linejoin="round"/>
<g transform="translate(1377.6 1031.6) scale(1 1)" ><use href="#rotup"/></g>
<circle cx="1420.2" cy="1030.8" r="11.9" fill="#fff" stroke="#000" stroke-width="1.15"/>
<text x="1420.2" y="1037.42" font-size="18.5" font-weight="bold" font-family="Liberation Sans, sans-serif" text-anchor="middle" >9</text>
<path d="M1468.2 750L1604.2 671.8M1468.2 750L1514.3 825.5M1604.2 671.8L1647.3 746" stroke="#222" stroke-width="0.8" fill="none"/>
<path d="M0 0L-9 -1.3L-9 1.3Z" fill="#111" transform="translate(1466.5 751) rotate(150.1)"/>
<path d="M0 0L-9 -1.3L-9 1.3Z" fill="#111" transform="translate(1606 670.8) rotate(-29.9)"/>
<text x="0" y="0" font-size="12.6" text-anchor="middle" textLength="44" lengthAdjust="spacingAndGlyphs" transform="translate(1534.8 707.6) rotate(-29.9)">95mm</text>
<polygon points="1583.5,790.5 1597.5,758.0 1631.0,730.0 1664.5,744.0 1630.0,772.0 1617.0,805.5" fill="#fff" stroke="#000" stroke-width="1.6" stroke-linejoin="round" />
<polyline points="1664.5,744.0 1630.0,772.0 1617.0,805.5" fill="none" stroke="#000" stroke-width="2.6" stroke-linecap="round" stroke-linejoin="round"/>
<polyline points="1617.0,805.5 1594.0,825.0" fill="none" stroke="#000" stroke-width="2.4" stroke-linecap="round" stroke-linejoin="round"/>
<polygon points="1566.0,805.0 1583.5,790.5 1617.0,804.5 1594.0,825.0" fill="#fff" stroke="#000" stroke-width="1.6" stroke-linejoin="round" />
<polyline points="1617.0,805.0 1594.0,825.0" fill="none" stroke="#000" stroke-width="2.6" stroke-linecap="round" stroke-linejoin="round"/>
<polyline points="1580.0,812.5 1594.0,825.0" fill="none" stroke="#000" stroke-width="2.2" stroke-linecap="round" stroke-linejoin="round"/>
<polyline points="1581.2,811.8 1594.5,823.5" fill="none" stroke="#000" stroke-width="1" stroke-linecap="round" stroke-linejoin="round"/>
<path d="M1627.6 752.6L1637.2 745.6" stroke="#000" stroke-width="8.2" stroke-linecap="round"/><path d="M1627.9 752L1637.4 745.1" stroke="#fff" stroke-width="4.6" stroke-linecap="round"/>
<path d="M1626.3 750.6L1636 744.5" stroke="#000" stroke-width="1" stroke-linecap="round" opacity="0"/>
<ellipse cx="1589" cy="806.8" rx="10.6" ry="6.6" fill="#fff" stroke="#000" stroke-width="1.7"/>
<path d="M1579.3 805.5A10 6 0 0 1 1598.8 805.5" fill="none" stroke="#000" stroke-width="1.1"/>
<polygon points="1514.5,827.0 1549.0,799.0 1580.0,812.5 1547.0,841.0" fill="#fff" stroke="#000" stroke-width="1.6" stroke-linejoin="round" />
<polyline points="1514.5,827.5 1547.0,841.5 1580.0,813.0" fill="none" stroke="#000" stroke-width="2.8" stroke-linecap="round" stroke-linejoin="round"/>
<path d="M1540.4 824.8L1550 817.8" stroke="#000" stroke-width="8.2" stroke-linecap="round"/><path d="M1540.7 824.2L1550.2 817.3" stroke="#fff" stroke-width="4.6" stroke-linecap="round"/>
<g transform="translate(1628.3 682.5)"><path d="M-6.1 27.5V56.5H6.1V27.5" fill="#fff" stroke="#000" stroke-width="2.1"/><ellipse cx="0" cy="56.3" rx="7.4" ry="2.5" fill="#fff" stroke="#000" stroke-width="2.6"/><path d="M-5.2 22L-9 27.2Q-9 29.4 -6.2 29.4H6.2Q9 29.4 9 27.2L5.2 22" fill="#fff" stroke="#000" stroke-width="1.5" stroke-linejoin="round"/><path d="M-6.8 26.6Q-4.5 25.6 -3 27.4M6.8 26.6Q4.5 25.6 3 27.4" fill="none" stroke="#000" stroke-width="1.2"/><path d="M-4.2 0.2Q-5.6 1.6 -5.4 4.5L-4.2 6.1L-5.4 7.9L-4.2 9.5L-5.4 11.3L-4.2 12.9L-5.4 14.7L-4.2 16.3L-5.4 18.1L-4.2 19.7L-5.4 21.5L-5.2 22" fill="none" stroke="#000" stroke-width="1.4" stroke-linejoin="round"/><path d="M-4.2 0.2Q-5.6 1.6 -5.4 4.5L-4.2 6.1L-5.4 7.9L-4.2 9.5L-5.4 11.3L-4.2 12.9L-5.4 14.7L-4.2 16.3L-5.4 18.1L-4.2 19.7L-5.4 21.5L-5.2 22" fill="none" stroke="#000" stroke-width="1.4" stroke-linejoin="round" transform="scale(-1 1)"/><path d="M-4.2 0.3H4.2" stroke="#000" stroke-width="1.6"/><path d="M0 1.5V32" stroke="#000" stroke-width="2.2" stroke-linecap="round"/></g>
<path d="M1628.5 715V898" stroke="#000" stroke-width="1.3"/>
<g transform="translate(1628.5 800.3)"><path d="M0 0Q1.5 2 2 6L3 28.5L5.6 30.2Q5.6 34.4 0 34.6Q-5.6 34.4 -5.6 30.2L-3 28.5L-2 6Q-1.5 2 0 0Z" fill="#000"/><path d="M-3.6 31.6Q0 33.6 3.6 31.6" stroke="#fff" stroke-width="0.8" fill="none"/></g>
<g transform="translate(1554.5 724.5)"><path d="M-6.1 27.5V56.5H6.1V27.5" fill="#fff" stroke="#000" stroke-width="2.1"/><ellipse cx="0" cy="56.3" rx="7.4" ry="2.5" fill="#fff" stroke="#000" stroke-width="2.6"/><path d="M-5.2 22L-9 27.2Q-9 29.4 -6.2 29.4H6.2Q9 29.4 9 27.2L5.2 22" fill="#fff" stroke="#000" stroke-width="1.5" stroke-linejoin="round"/><path d="M-6.8 26.6Q-4.5 25.6 -3 27.4M6.8 26.6Q4.5 25.6 3 27.4" fill="none" stroke="#000" stroke-width="1.2"/><path d="M-4.2 0.2Q-5.6 1.6 -5.4 4.5L-4.2 6.1L-5.4 7.9L-4.2 9.5L-5.4 11.3L-4.2 12.9L-5.4 14.7L-4.2 16.3L-5.4 18.1L-4.2 19.7L-5.4 21.5L-5.2 22" fill="none" stroke="#000" stroke-width="1.4" stroke-linejoin="round"/><path d="M-4.2 0.2Q-5.6 1.6 -5.4 4.5L-4.2 6.1L-5.4 7.9L-4.2 9.5L-5.4 11.3L-4.2 12.9L-5.4 14.7L-4.2 16.3L-5.4 18.1L-4.2 19.7L-5.4 21.5L-5.2 22" fill="none" stroke="#000" stroke-width="1.4" stroke-linejoin="round" transform="scale(-1 1)"/><path d="M-4.2 0.3H4.2" stroke="#000" stroke-width="1.6"/><path d="M0 1.5V32" stroke="#000" stroke-width="2.2" stroke-linecap="round"/></g>
<path d="M1554.8 768V842" stroke="#000" stroke-width="1.3"/>
<g transform="translate(1554.6 841)"><path d="M0 0Q1.5 2 2 6L3 28.5L5.6 30.2Q5.6 34.4 0 34.6Q-5.6 34.4 -5.6 30.2L-3 28.5L-2 6Q-1.5 2 0 0Z" fill="#000"/><path d="M-3.6 31.6Q0 33.6 3.6 31.6" stroke="#fff" stroke-width="0.8" fill="none"/></g>
<g transform="translate(1628.3 930)" fill="none" stroke="#000" stroke-width="1.3" stroke-linecap="round"><path d="M-6 -6.6C-16 -5.7 -23 -3.2 -23 0C-23 3.9 -12.7 7 0 7C12.7 7 23 3.9 23 0C23 -2.8 17 -5.2 9.5 -6.2"/><path d="M0.3 6.8V-23"/><path d="M-2.7 -20.6L0.3 -24.4L3.3 -20.6" /><path d="M7.6 -6.4L11.6 -8.4L10.9 -4.4Z" fill="#000" stroke-width="0.9"/></g>
<circle cx="1669.6" cy="931" r="7.2" fill="#fff" stroke="#000" stroke-width="1.1"/>
<text x="1669.6" y="935.12" font-size="11.5" font-weight="bold" font-family="Liberation Sans, sans-serif" text-anchor="middle" >1</text>
<text x="1553.9" y="992.9" font-size="12.5" font-weight="bold" font-family="Liberation Sans, sans-serif" text-anchor="start" textLength="49.4" lengthAdjust="spacingAndGlyphs" >250mm</text>
<path d="M1506 995H1651M1508 995V1006.7M1648.6 995V1006.7" stroke="#333" stroke-width="0.8" fill="none"/>
<path d="M0 0L-9 -1.4L-9 1.4Z" fill="#111" transform="translate(1503.9 995) rotate(180)"/>
<path d="M0 0L-9 -1.4L-9 1.4Z" fill="#111" transform="translate(1652.8 995) rotate(0)"/>
<rect x="1507.5" y="1014.8" width="141.8" height="15" fill="#fff" stroke="#000" stroke-width="1.6"/>
<path d="M1573.4 1036.5H1582.6V1039.8A4.6 4.6 0 0 1 1573.4 1039.8Z" fill="#fff" stroke="#000" stroke-width="1.3" stroke-linejoin="round"/>
<g fill="none" stroke="#000" stroke-width="1.2" stroke-linecap="round"><path d="M1577.6 1059.1C1571.6 1059.6 1568.4 1061 1568.4 1062.8C1568.4 1065 1573.5 1066.7 1580 1066.7C1586.5 1066.7 1591.6 1065 1591.6 1062.8C1591.6 1061.2 1589 1059.9 1585 1059.3"/><path d="M1580.6 1075.6V1052"/><path d="M1578.3 1053.6L1580.6 1050.4L1582.9 1053.6Z" fill="#000" stroke-width="0.8"/><path d="M1583.6 1059.2L1586.7 1057.6L1586.2 1060.8Z" fill="#000" stroke-width="0.8"/></g>
<circle cx="1594.4" cy="1073.9" r="7.7" fill="#fff" stroke="#000" stroke-width="1.1"/>
<text x="1594.4" y="1078.2" font-size="12" font-weight="bold" font-family="Liberation Sans, sans-serif" text-anchor="middle" >6</text>
</svg>
</body></html>
